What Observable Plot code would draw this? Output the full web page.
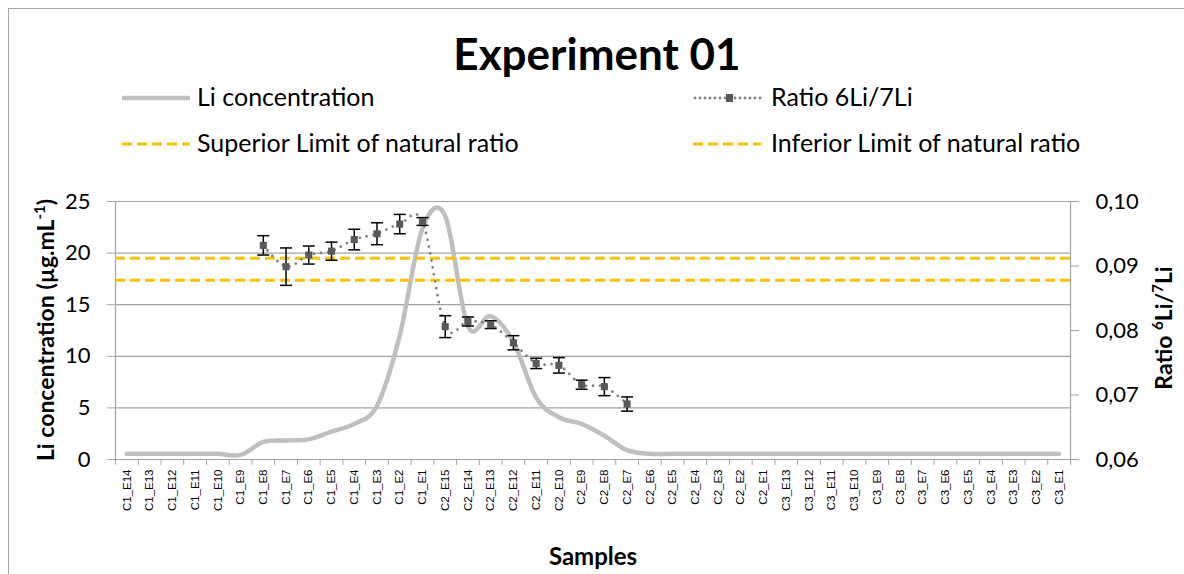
<!DOCTYPE html>
<html><head><meta charset="utf-8">
<script src="https://cdn.jsdelivr.net/npm/d3@7"></script>
<script src="https://cdn.jsdelivr.net/npm/@observablehq/plot@0.6"></script>
<style>
body{margin:0;background:#fff;}
#chart{position:relative;width:1184px;height:574px;overflow:hidden;font-family:Lato,sans-serif;}
#frame{position:absolute;left:8px;top:8px;width:1200px;height:600px;border:1px solid #a6a6a6;box-sizing:border-box;}
.layer{position:absolute;left:0;}
</style></head><body>
<div id="chart"><div id="frame"></div></div>
<script>
// ---- data ----
const categories = [
  "C1_E14","C1_E13","C1_E12","C1_E11","C1_E10","C1_E9","C1_E8","C1_E7","C1_E6","C1_E5","C1_E4","C1_E3","C1_E2","C1_E1",
  "C2_E15","C2_E14","C2_E13","C2_E12","C2_E11","C2_E10","C2_E9","C2_E8","C2_E7","C2_E6","C2_E5","C2_E4","C2_E3","C2_E2","C2_E1",
  "C3_E13","C3_E12","C3_E11","C3_E10","C3_E9","C3_E8","C3_E7","C3_E6","C3_E5","C3_E4","C3_E3","C3_E2","C3_E1"
];
const liConcentration = [
  0.55,0.55,0.55,0.55,0.55,0.45,1.7,1.85,1.95,2.7,3.45,5.2,12.0,22.4,
  23.6,12.9,13.9,11.4,6.0,4.1,3.45,2.3,0.9,0.55,0.55,0.55,0.55,0.55,0.55,
  0.55,0.55,0.55,0.55,0.55,0.55,0.55,0.55,0.55,0.55,0.55,0.55,0.55
];
const ratioSamples = ["C1_E8","C1_E7","C1_E6","C1_E5","C1_E4","C1_E3","C1_E2","C1_E1",
  "C2_E15","C2_E14","C2_E13","C2_E12","C2_E11","C2_E10","C2_E9","C2_E8","C2_E7"];
const ratioValues = [0.0932,0.0899,0.0917,0.0923,0.0941,0.0950,0.0965,0.0969,
  0.0806,0.0814,0.0809,0.0781,0.0749,0.0746,0.0716,0.0713,0.0686];
const ratioErrors = [0.0015,0.0029,0.0014,0.0014,0.0016,0.0017,0.0015,0.0006,
  0.0017,0.0007,0.0006,0.0011,0.0008,0.0012,0.0007,0.0014,0.0011];
const superiorLimit = 0.0912;
const inferiorLimit = 0.0878;
const concTicks = [0,5,10,15,20,25];
const ratioTicks = [0.06,0.07,0.08,0.09,0.10];

// ---- derived tables ----
const concRows = categories.map((c,i)=>({cat:c, x:i+0.5, v:liConcentration[i]}));
const ratioRows = ratioSamples.map((c,i)=>({cat:c, x:categories.indexOf(c)+0.5, v:ratioValues[i],
  lo:ratioValues[i]-ratioErrors[i], hi:ratioValues[i]+ratioErrors[i]}));

const chart = document.getElementById("chart");
const W = 1184, HH = 170, PH = 404;
const grid = "#a3a3a3";
const margins = {marginTop:31, marginBottom:115, marginLeft:115, marginRight:114};
const smooth = d3.curveCatmullRom.alpha(0);
const capSymbol = {draw(ctx, size){ const h = Math.sqrt(size/Math.PI)*1.5; ctx.moveTo(-h,0); ctx.lineTo(h,0); }};

// ---- header (title + legend) ----
const head = d3.create("svg").attr("width",W).attr("height",HH).attr("class","layer").style("top","0px")
  .style("font-family","Lato, sans-serif");
head.append("text").attr("x",597).attr("y",70).attr("text-anchor","middle")
  .attr("font-weight","bold").attr("font-size",44).text("Experiment 01");
const leg = [
  {x:122, y:98, label:"Li concentration", kind:"conc"},
  {x:693, y:98, label:"Ratio 6Li/7Li", kind:"ratio"},
  {x:122, y:144, label:"Superior Limit of natural ratio", kind:"lim"},
  {x:693, y:144, label:"Inferior Limit of natural ratio", kind:"lim"}
];
for (const l of leg) {
  const g = head.append("g");
  if (l.kind==="conc") g.append("line").attr("x1",l.x).attr("x2",l.x+68).attr("y1",l.y).attr("y2",l.y).attr("stroke","#bfbfbf").attr("stroke-width",4.5);
  if (l.kind==="lim") g.append("line").attr("x1",l.x).attr("x2",l.x+68).attr("y1",l.y).attr("y2",l.y).attr("stroke","#FFC000").attr("stroke-width",3).attr("stroke-dasharray","10,5");
  if (l.kind==="ratio") {
    g.append("line").attr("x1",l.x+2).attr("x2",l.x+72).attr("y1",l.y).attr("y2",l.y).attr("stroke","#808080").attr("stroke-width",2.8).attr("stroke-dasharray","0,5").attr("stroke-linecap","round");
    g.append("rect").attr("x",l.x+33).attr("y",l.y-4).attr("width",7).attr("height",8).attr("fill","#595959");
  }
  const tx = l.x>600 ? l.x+78 : l.x+75;
  g.append("text").attr("x",tx).attr("y",l.y+8).attr("font-size",25).text(l.label);
}
chart.appendChild(head.node());

// ---- concentration layer ----
const p1 = Plot.plot({
  width:W, height:PH, ...margins,
  style:{background:"transparent", fontFamily:"Lato, sans-serif", color:"black"},
  x:{domain:[0,42], axis:null},
  y:{domain:[0,25], axis:null},
  marks:[
    Plot.ruleY(concTicks.filter(d=>d>0), {stroke:grid, strokeWidth:1.2}),
    Plot.ruleX([0,42], {stroke:grid, strokeWidth:1.2}),
    Plot.ruleY([0], {stroke:grid, strokeWidth:1.2}),
    Plot.axisY({ticks:concTicks, tickSize:8, tickPadding:17, fontSize:22, stroke:grid, tickFormat:d=>String(d), label:null}),
    Plot.axisX({ticks:d3.range(43), tickSize:6, tickFormat:()=>"", stroke:grid, label:null}),
    Plot.axisX({ticks:concRows.map(d=>d.x), tickSize:0, tickPadding:10, tickRotate:-90, fontSize:11.5,
      fontFamily:"Liberation Sans, Arial, sans-serif", tickFormat:v=>categories[Math.round(v-0.5)], label:null}),
    Plot.line(concRows, {x:"x", y:"v", curve:smooth, stroke:"#bfbfbf", strokeWidth:4.5})
  ]
});
p1.classList.add("layer"); p1.style.top = HH+"px";
const s1 = d3.select(p1);
const lt = s1.append("text").attr("transform",`translate(54,${330-HH}) rotate(-90)`).attr("text-anchor","middle")
  .attr("font-weight","bold").attr("font-size",23).attr("fill","black");
lt.append("tspan").text("Li concentration (µg.mL");
lt.append("tspan").attr("dy",-9).attr("font-size",15).text("-1");
lt.append("tspan").attr("dy",9).text(")");
s1.append("text").attr("x",593).attr("y",565-HH).attr("text-anchor","middle").attr("font-weight","bold")
  .attr("font-size",24).attr("fill","black").text("Samples");
chart.appendChild(p1);

// ---- ratio layer ----
const p2 = Plot.plot({
  width:W, height:PH, ...margins,
  style:{background:"transparent", fontFamily:"Lato, sans-serif", color:"black"},
  x:{domain:[0,42], axis:null},
  y:{domain:[0.06,0.10], axis:null},
  marks:[
    Plot.ruleY([superiorLimit, inferiorLimit], {stroke:"#FFC000", strokeWidth:3, strokeDasharray:"10,5"}),
    Plot.line(ratioRows, {x:"x", y:"v", curve:smooth, stroke:"#808080", strokeWidth:2.8, strokeDasharray:"0,7", strokeLinecap:"round"}),
    Plot.ruleX(ratioRows, {x:"x", y1:"lo", y2:"hi", stroke:"black", strokeWidth:1.5}),
    Plot.dot(ratioRows, {x:"x", y:"lo", symbol:capSymbol, r:4, stroke:"black", strokeWidth:1.5, fill:"none"}),
    Plot.dot(ratioRows, {x:"x", y:"hi", symbol:capSymbol, r:4, stroke:"black", strokeWidth:1.5, fill:"none"}),
    Plot.dot(ratioRows, {x:"x", y:"v", symbol:"square", r:4, fill:"#595959", stroke:"none"}),
    Plot.axisY({anchor:"right", ticks:ratioTicks, tickSize:8, tickPadding:17, fontSize:22, stroke:grid,
      tickFormat:d=>d.toFixed(2).replace(".",","), label:null})
  ]
});
p2.classList.add("layer"); p2.style.top = HH+"px";
const s2 = d3.select(p2);
const rt = s2.append("text").attr("transform",`translate(1172,${328-HH}) rotate(-90)`).attr("text-anchor","middle")
  .attr("font-weight","bold").attr("font-size",23).attr("fill","black");
rt.append("tspan").text("Ratio ");
rt.append("tspan").attr("dy",-9).attr("font-size",15).text("6");
rt.append("tspan").attr("dy",9).text("Li/");
rt.append("tspan").attr("dy",-9).attr("font-size",15).text("7");
rt.append("tspan").attr("dy",9).text("Li");
chart.appendChild(p2);
</script>
</body></html>
